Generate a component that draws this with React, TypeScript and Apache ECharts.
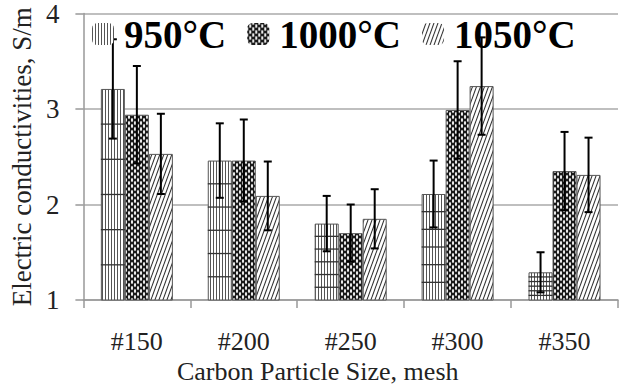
import React, { useEffect, useRef } from "react";
import * as echarts from "echarts";

const categories = ["#150", "#200", "#250", "#300", "#350"];
const seriesNames = ["950°C", "1000°C", "1050°C"];
const values950 = [3.21, 2.46, 1.8, 2.11, 1.29];
const errors950 = [0.52, 0.39, 0.29, 0.35, 0.21];
const values1000 = [2.94, 2.46, 1.7, 2.99, 2.35];
const errors1000 = [0.51, 0.43, 0.3, 0.51, 0.41];
const values1050 = [2.53, 2.09, 1.85, 3.24, 2.31];
const errors1050 = [0.42, 0.36, 0.31, 0.51, 0.39];
const yMin = 1;
const yMax = 4;
const yInterval = 1;

const BAR_W = 24;
const CAP = 4;
const FONT = "Liberation Serif";

function makeCanvas(w: number, h: number, draw: (ctx: CanvasRenderingContext2D) => void) {
  const c = document.createElement("canvas");
  c.width = w;
  c.height = h;
  const ctx = c.getContext("2d")!;
  draw(ctx);
  return c;
}

export default function App() {
  const ref = useRef<HTMLDivElement>(null);
  useEffect(() => {
    document.body.style.margin = "0";
    if (!ref.current) return;
    const chart = echarts.init(ref.current, undefined, { renderer: "svg" });

    const p950 = makeCanvas(3, 3, (ctx) => {
      ctx.fillStyle = "#fff";
      ctx.fillRect(0, 0, 3, 3);
      ctx.fillStyle = "#555";
      ctx.fillRect(0, 0, 1, 3);
    });
    const p1000 = makeCanvas(6, 6, (ctx) => {
      ctx.fillStyle = "#1a1a1a";
      ctx.fillRect(0, 0, 6, 6);
      ctx.fillStyle = "#fff";
      const pts = [
        [3, 3],
        [0, 0],
        [6, 0],
        [0, 6],
        [6, 6],
      ];
      pts.forEach(([x, y]) => {
        ctx.beginPath();
        ctx.ellipse(x, y, 1.0, 2.0, 0, 0, Math.PI * 2);
        ctx.fill();
      });
    });
    const p1050 = makeCanvas(4, 11, (ctx) => {
      ctx.fillStyle = "#fff";
      ctx.fillRect(0, 0, 4, 11);
      ctx.strokeStyle = "#333";
      ctx.lineWidth = 1.1;
      ctx.beginPath();
      ctx.moveTo(-4, 11);
      ctx.lineTo(0, 0);
      ctx.moveTo(0, 11);
      ctx.lineTo(4, 0);
      ctx.moveTo(4, 11);
      ctx.lineTo(8, 0);
      ctx.stroke();
    });
    const patterns = [p950, p1000, p1050];
    const valueSets = [values950, values1000, values1050];
    const errorSets = [errors950, errors1000, errors1050];

    const errData: number[][] = [];
    valueSets.forEach((vals, s) => {
      vals.forEach((v, i) => errData.push([i, v, errorSets[s][i], s]));
    });

    const barSeries = seriesNames.map((name, s) => ({
      type: "bar",
      name,
      data: valueSets[s],
      barWidth: BAR_W,
      barGap: "0%",
      itemStyle: {
        color: { image: patterns[s], repeat: "repeat" },
        borderColor: "#555",
        borderWidth: 1,
      },
    }));

    chart.setOption({
      animation: false,
      textStyle: { fontFamily: FONT },
      grid: { left: 82, right: 3, top: 13, bottom: 90 },
      legend: {
        data: seriesNames,
        left: 92,
        top: 13,
        padding: 0,
        itemWidth: 22,
        itemHeight: 22,
        itemGap: 21,
        itemStyle: { borderWidth: 0 },
        textStyle: {
          fontFamily: FONT,
          fontSize: 39,
          fontWeight: "bold",
          color: "#000",
          lineHeight: 42,
          padding: [0, 0, 0, 5],
        },
      },
      xAxis: {
        type: "category",
        data: categories,
        name: "Carbon Particle Size, mesh",
        nameLocation: "middle",
        nameGap: 58,
        nameTextStyle: { fontFamily: FONT, fontSize: 26, color: "#222", padding: [0, 66, 0, 0] },
        axisLine: { lineStyle: { color: "#999", width: 1.5 } },
        axisTick: { show: true, length: 8, lineStyle: { color: "#999", width: 1.5 } },
        axisLabel: { fontFamily: FONT, fontSize: 26, color: "#222", margin: 28 },
      },
      yAxis: {
        type: "value",
        min: yMin,
        max: yMax,
        interval: yInterval,
        name: "Electric conductivities, S/m",
        nameLocation: "middle",
        nameGap: 46,
        nameTextStyle: { fontFamily: FONT, fontSize: 27, color: "#222" },
        axisLine: { show: true, lineStyle: { color: "#999", width: 1.5 } },
        axisTick: { show: true, length: 8, lineStyle: { color: "#999", width: 1.5 } },
        axisLabel: { fontFamily: FONT, fontSize: 27, color: "#222", margin: 24 },
        splitLine: { lineStyle: { color: "#aaa", width: 1.5 } },
      },
      series: [
        ...barSeries,
        {
          type: "custom",
          name: "errors",
          data: errData,
          encode: { x: 0, y: 1 },
          z: 3,
          renderItem: (params: any, api: any) => {
            const ci = api.value(0);
            const v = api.value(1);
            const e = api.value(2);
            const s = api.value(3);
            const off = (s - 1) * BAR_W;
            const top = api.coord([ci, v + e]);
            const bot = api.coord([ci, v - e]);
            const x = top[0] + off;
            const children: any[] = [];
            if (s === 0) {
              const base = api.coord([ci, yMin])[1];
              const barTop = api.coord([ci, v])[1];
              for (let k = 1; k <= 5; k++) {
                const y = base + ((barTop - base) * k) / 6;
                children.push({
                  type: "line",
                  shape: { x1: x - BAR_W / 2, y1: y, x2: x + BAR_W / 2, y2: y },
                  style: { stroke: "#333", lineWidth: 1.3 },
                });
              }
            }
            const ls = { stroke: "#000", lineWidth: 2 };
            children.push({ type: "line", shape: { x1: x, y1: top[1], x2: x, y2: bot[1] }, style: ls });
            children.push({ type: "line", shape: { x1: x - CAP, y1: top[1], x2: x + CAP, y2: top[1] }, style: ls });
            children.push({ type: "line", shape: { x1: x - CAP, y1: bot[1], x2: x + CAP, y2: bot[1] }, style: ls });
            return { type: "group", children };
          },
        },
      ],
    });
    return () => chart.dispose();
  }, []);
  return <div ref={ref} style={{ width: 621, height: 390 }} />;
}
